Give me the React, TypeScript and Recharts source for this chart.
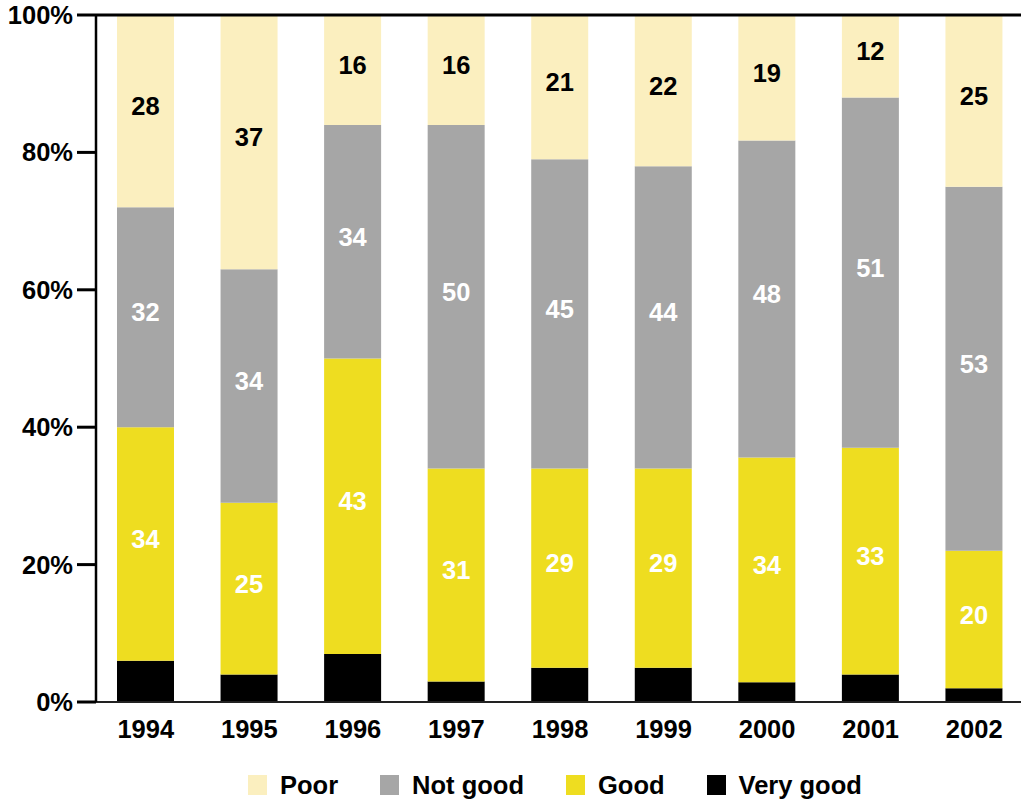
import React from 'react';
import { BarChart, Bar, XAxis, YAxis, ReferenceLine, LabelList } from 'recharts';

const years = ['1994', '1995', '1996', '1997', '1998', '1999', '2000', '2001', '2002'];
const veryGood = [6, 4, 7, 3, 5, 5, 3, 4, 2];
const good = [34, 25, 43, 31, 29, 29, 34, 33, 20];
const notGood = [32, 34, 34, 50, 45, 44, 48, 51, 53];
const poor = [28, 37, 16, 16, 21, 22, 19, 12, 25];
const yTicks = [0, 0.2, 0.4, 0.6, 0.8, 1];

const COLORS = {
  poor: '#FBEFBF',
  notGood: '#A6A6A6',
  good: '#EEDD20',
  veryGood: '#000000',
};

const FONT = '"Liberation Sans", Arial, Helvetica, sans-serif';
const FONT_SIZE = 25.5;

const data = years.map((year, i) => ({
  year,
  veryGood: veryGood[i],
  good: good[i],
  notGood: notGood[i],
  poor: poor[i],
}));

const legendItems = [
  { label: 'Poor', color: COLORS.poor },
  { label: 'Not good', color: COLORS.notGood },
  { label: 'Good', color: COLORS.good },
  { label: 'Very good', color: COLORS.veryGood },
];

const labelStyle = { fontSize: FONT_SIZE, fontWeight: 700, fontFamily: FONT };

// centred value label, nudged up a little like the original
const segmentLabel = (color: string) => (props: any) => {
  const { x, y, width, height, value } = props;
  return (
    <text
      x={Number(x) + Number(width) / 2}
      y={Number(y) + Number(height) / 2 - 5}
      textAnchor="middle"
      dominantBaseline="central"
      fill={color}
      style={labelStyle}
    >
      {value}
    </text>
  );
};

export default function App() {
  return (
    <div
      style={{
        position: 'absolute',
        left: 0,
        top: 0,
        width: 1021,
        height: 803,
        overflow: 'hidden',
        background: '#fff',
        fontFamily: FONT,
      }}
    >
      <BarChart
        width={1040}
        height={803}
        data={data}
        stackOffset="expand"
        margin={{ top: 15, right: 12, left: 0, bottom: 0 }}
      >
        <XAxis
          dataKey="year"
          height={101}
          padding={{ left: -2, right: 2 }}
          tickLine={false}
          axisLine={{ stroke: '#222', strokeWidth: 2 }}
          tickMargin={12}
          tick={{ fill: '#000', ...labelStyle }}
        />
        <YAxis
          width={96}
          domain={[0, 1]}
          ticks={yTicks}
          tickFormatter={(v: number) => `${Math.round(v * 100)}%`}
          tickSize={19}
          tickMargin={4}
          tickLine={{ stroke: '#000', strokeWidth: 3 }}
          axisLine={{ stroke: '#000', strokeWidth: 2.5 }}
          tick={{ fill: '#000', ...labelStyle }}
        />
        <ReferenceLine y={1} stroke="#000" strokeWidth={3} />
        <Bar dataKey="veryGood" stackId="a" fill={COLORS.veryGood} barSize={57} isAnimationActive={false} />
        <Bar dataKey="good" stackId="a" fill={COLORS.good} barSize={57} isAnimationActive={false}>
          <LabelList dataKey="good" content={segmentLabel('#fff')} />
        </Bar>
        <Bar dataKey="notGood" stackId="a" fill={COLORS.notGood} barSize={57} isAnimationActive={false}>
          <LabelList dataKey="notGood" content={segmentLabel('#fff')} />
        </Bar>
        <Bar dataKey="poor" stackId="a" fill={COLORS.poor} barSize={57} isAnimationActive={false}>
          <LabelList dataKey="poor" content={segmentLabel('#000')} />
        </Bar>
      </BarChart>
      <div
        style={{
          position: 'absolute',
          left: 248,
          top: 772,
          display: 'flex',
          alignItems: 'center',
          gap: 42,
          fontSize: FONT_SIZE,
          fontWeight: 700,
          color: '#000',
          lineHeight: '26px',
        }}
      >
        {legendItems.map((item) => (
          <div key={item.label} style={{ display: 'flex', alignItems: 'center' }}>
            <div style={{ width: 19, height: 20, background: item.color, marginRight: 13 }} />
            <span>{item.label}</span>
          </div>
        ))}
      </div>
    </div>
  );
}
